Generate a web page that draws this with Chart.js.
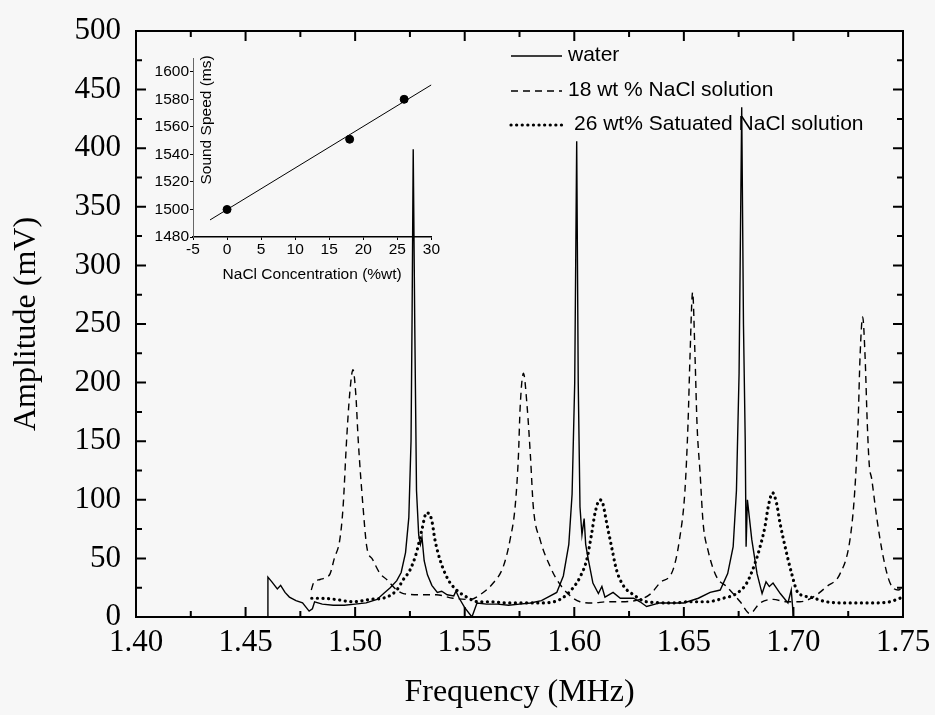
<!DOCTYPE html>
<html>
<head>
<meta charset="utf-8">
<title>Amplitude vs Frequency</title>
<script src="https://cdn.jsdelivr.net/npm/chart.js@4.4.1/dist/chart.umd.min.js"></script>
<style>
  html, body { margin: 0; padding: 0; background: #f7f7f7; }
  #wrap { position: relative; width: 935px; height: 715px; }
  #main { position: absolute; left: 0; top: 0; }
  #inset { position: absolute; left: 140px; top: 40px; }
</style>
</head>
<body>
<div id="wrap">
  <canvas id="main" width="935" height="715"></canvas>
  <canvas id="inset" width="300" height="250"></canvas>
</div>
<script>
// main plot: amplitude (mV) vs frequency (MHz)
const waterFreq = [1.4600, 1.4602, 1.4620, 1.4645, 1.4660, 1.4680, 1.4700, 1.4730, 1.4760, 1.4790, 1.4805, 1.4815,
  1.4850, 1.4900, 1.4950, 1.5000, 1.5050, 1.5100, 1.5130, 1.5160, 1.5190, 1.5210, 1.5230, 1.5245, 1.5255, 1.5260,
  1.5265, 1.5272, 1.5280, 1.5290, 1.5298, 1.5305, 1.5315, 1.5330, 1.5350, 1.5375, 1.5395, 1.5420, 1.5450, 1.5460,
  1.5475, 1.5500, 1.5533, 1.5556, 1.5600, 1.5650, 1.5700, 1.5750, 1.5800, 1.5850, 1.5880, 1.5920, 1.5950, 1.5975,
  1.5990, 1.6002, 1.6011, 1.6018, 1.6026, 1.6035, 1.6045, 1.6052, 1.6063, 1.6085, 1.6110, 1.6126, 1.6140, 1.6177,
  1.6210, 1.6270, 1.6300, 1.6330, 1.6390, 1.6450, 1.6500, 1.6566, 1.6620, 1.6666, 1.6700, 1.6725, 1.6740, 1.6752,
  1.6764, 1.6772, 1.6780, 1.6784, 1.6790, 1.6810, 1.6834, 1.6857, 1.6875, 1.6890, 1.6907, 1.6940, 1.6975, 1.6990,
  1.7000];
const waterAmp = [0, 34, 30, 24, 27, 21, 17, 14, 12, 5, 7, 13,
  11, 10, 10, 11, 12, 15, 20, 25, 31, 38, 55, 85, 150, 260,
  399, 250, 108, 70, 62, 68, 48, 36, 27, 21, 22, 19, 18, 22,
  16, 8, 0, 12, 11, 11, 10, 11, 12, 14, 17, 21, 35, 62,
  105, 200, 406, 200, 94, 70, 84, 62, 50, 29, 20, 26, 17, 21,
  16, 16, 13, 9, 12, 12, 12, 16, 21, 23, 37, 60, 108, 208,
  435, 250, 151, 60, 100, 66, 37, 20, 30, 26, 29, 20, 12, 23,
  0];

const nacl18Freq = [1.4800, 1.4810, 1.4840, 1.4870, 1.4886, 1.4905, 1.4930, 1.4945, 1.4961, 1.4975, 1.4990, 1.5003,
  1.5014, 1.5036, 1.5053, 1.5080, 1.5114, 1.5144, 1.5190, 1.5220, 1.5296, 1.5370, 1.5447, 1.5525, 1.5570, 1.5630,
  1.5676, 1.5707, 1.5730, 1.5745, 1.5753, 1.5768, 1.5785, 1.5800, 1.5813, 1.5844, 1.5890, 1.5920, 1.5965, 1.6026,
  1.6086, 1.6148, 1.6210, 1.6300, 1.6350, 1.6390, 1.6450, 1.6480, 1.6505, 1.6519, 1.6528, 1.6540, 1.6551, 1.6560,
  1.6574, 1.6588, 1.6610, 1.6650, 1.6695, 1.6757, 1.6801, 1.6848, 1.6907, 1.6970, 1.7030, 1.7090, 1.7152, 1.7213,
  1.7258, 1.7280, 1.7295, 1.7304, 1.7316, 1.7327, 1.7337, 1.7346, 1.7357, 1.7380, 1.7410, 1.7441, 1.7478, 1.7500];
const nacl18Amp = [23, 29, 32, 34, 37, 50, 66, 94, 151, 190, 211, 190,
  151, 94, 60, 49, 37, 32, 23, 20, 19, 19, 16, 15, 19, 29,
  43, 66, 94, 137, 179, 208, 179, 137, 94, 66, 43, 32, 21, 13,
  12, 13, 13, 15, 20, 29, 40, 66, 108, 165, 222, 277, 222, 165,
  123, 80, 57, 34, 26, 13, 3, 12, 15, 13, 13, 17, 26, 37,
  66, 108, 165, 222, 256, 222, 165, 130, 118, 85, 51, 29, 23, 25];

const nacl26Freq = [1.4802, 1.4840, 1.4910, 1.4990, 1.5068, 1.5144, 1.5190, 1.5220, 1.5250, 1.5280, 1.5304, 1.5326,
  1.5349, 1.5364, 1.5387, 1.5424, 1.5463, 1.5509, 1.5560, 1.5615, 1.5700, 1.5844, 1.5935, 1.5995, 1.6026, 1.6057,
  1.6080, 1.6095, 1.6117, 1.6130, 1.6148, 1.6170, 1.6193, 1.6223, 1.6270, 1.6330, 1.6450, 1.6528, 1.6604, 1.6680,
  1.6740, 1.6787, 1.6825, 1.6848, 1.6870, 1.6885, 1.6905, 1.6923, 1.6939, 1.6962, 1.6992, 1.7020, 1.7076, 1.7150,
  1.7243, 1.7364, 1.7440, 1.7500];
const nacl26Amp = [16, 16, 15, 13, 15, 17, 23, 32, 40, 55, 74, 89,
  83, 66, 49, 32, 23, 17, 13, 13, 12, 12, 15, 25, 34, 49,
  72, 89, 100, 97, 80, 60, 40, 27, 19, 13, 12, 13, 13, 16,
  20, 29, 46, 60, 77, 94, 106, 97, 80, 60, 37, 21, 17, 13,
  12, 12, 13, 17];

const seriesLabels = ['water', '18 wt % NaCl solution', '26 wt% Satuated NaCl solution'];

// inset: sound speed vs NaCl concentration
const naclConc = [0, 18, 26];
const soundSpeed = [1500, 1551, 1580];
const fitConc = [-2.5, 30];
const fitSpeed = [1492.4, 1590.5];
const insetSpeedTicks = [1480, 1500, 1520, 1540, 1560, 1580, 1600];

const pair = (xs, ys) => xs.map((x, i) => ({ x: x, y: ys[i] }));

Chart.defaults.color = '#000';
Chart.defaults.animation = false;

const serif = 'Liberation Serif, Times New Roman, serif';
const sans = 'Liberation Sans, Arial, sans-serif';

// box around the plot with inward ticks on all four sides
const frameTicks = {
  id: 'frameTicks',
  afterDatasetsDraw(chart) {
    const { ctx, chartArea: a, scales: { x, y } } = chart;
    ctx.save();
    ctx.strokeStyle = '#000';
    ctx.lineWidth = 2;
    ctx.strokeRect(a.left, a.top, a.right - a.left, a.bottom - a.top);
    ctx.beginPath();
    for (let i = 0; i <= 20; i++) {
      const p = y.getPixelForValue(i * 25);
      const len = i % 2 === 0 ? 10 : 6;
      ctx.moveTo(a.left, p); ctx.lineTo(a.left + len, p);
      ctx.moveTo(a.right, p); ctx.lineTo(a.right - len, p);
    }
    for (let i = 0; i <= 14; i++) {
      const p = x.getPixelForValue(1.40 + i * 0.025);
      const len = i % 2 === 0 ? 10 : 6;
      ctx.moveTo(p, a.bottom); ctx.lineTo(p, a.bottom - len);
      ctx.moveTo(p, a.top); ctx.lineTo(p, a.top + len);
    }
    ctx.stroke();
    ctx.restore();
  }
};

// legend drawn in the upper right of the plot
const lineLegend = {
  id: 'lineLegend',
  afterDraw(chart) {
    const { ctx } = chart;
    const rows = [{ y: 56, tx: 568 }, { y: 91, tx: 568 }, { y: 125, tx: 574 }];
    ctx.save();
    ctx.font = '21px ' + sans;
    ctx.fillStyle = '#000';
    ctx.textBaseline = 'middle';
    chart.data.datasets.forEach((ds, i) => {
      const r = rows[i];
      ctx.beginPath();
      ctx.strokeStyle = '#000';
      ctx.lineWidth = ds.borderWidth;
      ctx.lineCap = ds.borderCapStyle || 'butt';
      ctx.setLineDash(ds.borderDash || []);
      ctx.moveTo(511, r.y);
      ctx.lineTo(562, r.y);
      ctx.stroke();
      ctx.fillText(ds.label, r.tx, r.y - 1);
    });
    ctx.restore();
  }
};

new Chart(document.getElementById('main'), {
  type: 'scatter',
  data: {
    datasets: [
      {
        label: seriesLabels[0],
        data: pair(waterFreq, waterAmp),
        showLine: true,
        borderColor: '#000',
        borderWidth: 1.4,
        pointRadius: 0,
        tension: 0
      },
      {
        label: seriesLabels[1],
        data: pair(nacl18Freq, nacl18Amp),
        showLine: true,
        borderColor: '#000',
        borderWidth: 1.4,
        borderDash: [7, 5],
        pointRadius: 0,
        cubicInterpolationMode: 'monotone'
      },
      {
        label: seriesLabels[2],
        data: pair(nacl26Freq, nacl26Amp),
        showLine: true,
        borderColor: '#000',
        borderWidth: 3.2,
        borderDash: [0.1, 5.5],
        borderCapStyle: 'round',
        pointRadius: 0,
        cubicInterpolationMode: 'monotone'
      }
    ]
  },
  options: {
    responsive: false,
    layout: { padding: { top: 31, right: 32, left: 0, bottom: 0 } },
    plugins: { legend: { display: false }, tooltip: { enabled: false } },
    scales: {
      x: {
        type: 'linear',
        min: 1.40,
        max: 1.75,
        afterFit: s => { s.height = 98; s.paddingLeft = 0; s.paddingRight = 0; },
        grid: { display: false, drawTicks: false },
        border: { display: false },
        ticks: {
          stepSize: 0.05,
          padding: 7,
          font: { family: serif, size: 31 },
          callback: v => v.toFixed(2)
        },
        title: {
          display: true,
          text: 'Frequency (MHz)',
          font: { family: serif, size: 32 },
          padding: { top: 0, bottom: 3 }
        }
      },
      y: {
        min: 0,
        max: 500,
        afterFit: s => { s.width = 136; s.paddingTop = 0; s.paddingBottom = 0; },
        grid: { display: false, drawTicks: false },
        border: { display: false },
        ticks: {
          stepSize: 50,
          padding: 15,
          font: { family: serif, size: 31 }
        },
        title: {
          display: true,
          text: 'Amplitude (mV)',
          font: { family: serif, size: 32 },
          padding: { top: 7, bottom: 0 }
        }
      }
    }
  },
  plugins: [frameTicks, lineLegend]
});

// y title of the inset sits to the right of its axis
const insetTitle = {
  id: 'insetTitle',
  afterDraw(chart) {
    const { ctx, chartArea: a, scales: { y } } = chart;
    ctx.save();
    ctx.font = '15.5px ' + sans;
    ctx.fillStyle = '#000';
    ctx.textAlign = 'center';
    ctx.textBaseline = 'middle';
    ctx.translate(a.left + 14, y.getPixelForValue(1565));
    ctx.rotate(-Math.PI / 2);
    ctx.fillText('Sound Speed (ms)', 0, 0);
    ctx.restore();
  }
};

new Chart(document.getElementById('inset'), {
  type: 'scatter',
  data: {
    datasets: [
      {
        data: pair(fitConc, fitSpeed),
        showLine: true,
        borderColor: '#000',
        borderWidth: 1,
        pointRadius: 0
      },
      {
        data: pair(naclConc, soundSpeed),
        backgroundColor: '#000',
        borderColor: '#000',
        pointRadius: 4
      }
    ]
  },
  options: {
    responsive: false,
    layout: { padding: { top: 18, right: 7, left: 0, bottom: 0 } },
    plugins: { legend: { display: false }, tooltip: { enabled: false } },
    scales: {
      x: {
        type: 'linear',
        min: -5,
        max: 30,
        afterFit: s => { s.height = 53; },
        grid: { display: true, drawOnChartArea: false, drawTicks: true, tickLength: 3, color: '#000' },
        border: { display: true, color: '#000', width: 1.5 },
        ticks: { stepSize: 5, padding: 0, font: { family: sans, size: 15.5 } },
        title: {
          display: true,
          text: 'NaCl Concentration (%wt)',
          font: { family: sans, size: 15.5 },
          padding: { top: 0, bottom: 6 }
        }
      },
      y: {
        min: 1480,
        max: 1610,
        afterFit: s => { s.width = 53; },
        afterBuildTicks: s => { s.ticks = insetSpeedTicks.map(v => ({ value: v })); },
        grid: { display: true, drawOnChartArea: false, drawTicks: true, tickLength: 3, color: '#000' },
        border: { display: true, color: '#666', width: 1, dash: [1, 2] },
        ticks: {
          padding: 1,
          font: { family: sans, size: 15.5 },
          callback: v => String(v)
        }
      }
    }
  },
  plugins: [insetTitle]
});
</script>
</body>
</html>
